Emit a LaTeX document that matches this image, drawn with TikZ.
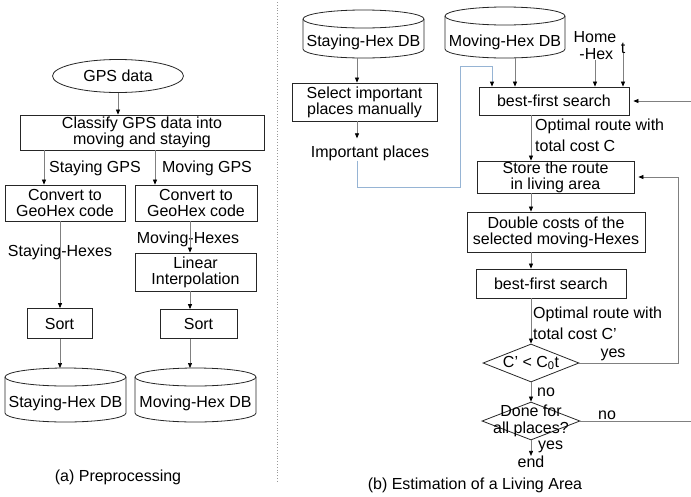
\documentclass[tikz,border=0pt]{standalone}
\usepackage{fontspec}
\setmainfont{Liberation Sans}
\usetikzlibrary{arrows.meta,shapes.geometric}
\definecolor{routeblue}{RGB}{150,180,212}
\newcommand\mkcyl[7]{%
  \pgfmathsetmacro\cylL{#2-#3/2}\pgfmathsetmacro\cylR{#2+#3/2}\pgfmathsetmacro\cylRx{#3/2}%
  \pgfmathsetmacro\cylT{#4+9}\pgfmathsetmacro\cylB{#5-9}%
  \draw[cylsty] (\cylL,\cylT) -- (\cylL,\cylB) arc[start angle=180,end angle=0,x radius=\cylRx,y radius=9] -- (\cylR,\cylT);
  \draw[cylsty] (#2,\cylT) ellipse[x radius=\cylRx, y radius=9];
  \coordinate (#1-t) at (#2,#4);
  \coordinate (#1-b) at (#2,#5);
  \node (#1) at (#2,#6) {#7};
}
\begin{document}
\begin{tikzpicture}[x=1pt,y=-1pt,
  every node/.style={font=\fontsize{16}{16}\selectfont, inner sep=0pt, align=center},
  box/.style={draw=black!85, line width=0.8pt, rectangle},
  cylsty/.style={draw=black!85, line width=0.8pt},
  arr/.style={draw=black!50, line width=0.7pt, -{Triangle[length=5pt,width=4pt,color=black]}},
  barr/.style={draw=routeblue, line width=0.8pt, -{Triangle[length=5pt,width=4pt,color=black]}},
  ln/.style={draw=black!50, line width=0.7pt},
  dia/.style={draw=black!85, line width=0.8pt, diamond, inner sep=0pt},
  optlbl/.style={align=left, anchor=west, font=\fontsize{16}{21}\selectfont},
]
\useasboundingbox (0,0) rectangle (691,496);

% separator
\draw[black!40, line width=0.8pt, dotted] (277,2) -- (277,483);

% ---------- (a) Preprocessing ----------
\node[draw=black!85, line width=0.8pt, ellipse, minimum width=131pt, minimum height=33pt] (gps) at (118,76) {GPS data};
\node[box, minimum width=244pt, minimum height=35pt] (classify) at (142,132.5) {Classify GPS data into\\moving and staying};
\node[box, minimum width=120pt, minimum height=36pt] (conv1) at (65,203) {Convert to\\GeoHex code};
\node[box, minimum width=122pt, minimum height=36pt] (conv2) at (196,203) {Convert to\\GeoHex code};
\node[box, minimum width=121pt, minimum height=38pt] (linear) at (195.5,272) {Linear\\Interpolation};
\node[box, minimum width=65pt, minimum height=30pt] (sort1) at (59.5,323.5) {Sort};
\node[box, minimum width=77pt, minimum height=29pt] (sort2) at (198.5,324) {Sort};
\mkcyl{sdb1}{65.5}{121}{368}{422}{403}{Staying-Hex DB}
\mkcyl{mdb1}{195.5}{121}{368}{422}{403}{Moving-Hex DB}

\node (lstg) at (95,168) {Staying GPS};
\node (lmvg) at (207,168) {Moving GPS};
\node (lsth) at (60,252) {Staying-Hexes};
\node (lmvh) at (188,239) {Moving-Hexes};
\node (capa) at (118,477) {(a) Preprocessing};

\coordinate (xa) at (44,0);
\coordinate (xb) at (155,0);
\coordinate (xc) at (60,0);
\coordinate (xd) at (190,0);
\draw[arr] (gps.south) -- (classify.north -| gps);
\draw[arr] (classify.south -| xa) -- (conv1.north -| xa);
\draw[arr] (classify.south -| xb) -- (conv2.north -| xb);
\draw[arr] (conv1.south -| xc) -- (sort1.north -| xc);
\draw[arr] (conv2.south -| xd) -- (linear.north -| xd);
\draw[arr] (linear.south -| xd) -- (sort2.north -| xd);
\draw[arr] (sort1.south -| xc) -- (sdb1-t -| xc);
\draw[arr] (sort2.south -| xd) -- (mdb1-t -| xd);

% ---------- (b) Estimation of a Living Area ----------
\mkcyl{sdb2}{363.5}{121}{10}{58}{42}{Staying-Hex DB}
\mkcyl{mdb2}{505}{120}{7}{58}{42}{Moving-Hex DB}
\node (home) at (595,46) {Home\\[1pt]\,-Hex};
\node (tlab) at (623,48) {t};

\node[box, minimum width=145pt, minimum height=38pt] (select) at (364.5,102) {Select important\\places manually};
\node (imp) at (370,153) {Important places};
\node[box, minimum width=150pt, minimum height=28pt] (bfs1) at (554,101) {best-first search};
\node[box, minimum width=157pt, minimum height=32pt] (store) at (555.5,177) {Store the route\\in living area};
\node[box, minimum width=178pt, minimum height=40pt] (double) at (556,232) {Double costs of the\\selected moving-Hexes};
\node[box, minimum width=150pt, minimum height=29pt] (bfs2) at (551,283.5) {best-first search};
\node[dia, minimum width=96pt, minimum height=38pt] (d1) at (531,363) {};
\node (d1t) at (531,363) {C’ < C\textsubscript{0}t};
\node[dia, minimum width=98pt, minimum height=38pt] (d2) at (531,421) {};
\node[font=\fontsize{16}{17}\selectfont] (d2t) at (531,421) {Done for\\all places?};
\node (endl) at (531,462) {end};

\node[optlbl] (opt1) at (535,135) {Optimal route with\\total cost C};
\node[optlbl] (opt2) at (533,323) {Optimal route with\\total cost C’};
\node (yes1) at (613,355) {yes};
\node[anchor=west] (no1) at (537,392) {no};
\node (no2) at (607,415) {no};
\node[anchor=west] (yes2) at (538,447) {yes};
\node (capb) at (475,485) {(b) Estimation of a Living Area};

\coordinate (xe) at (357,0);
\coordinate (xf) at (515,0);
\coordinate (xm) at (531,0);
\coordinate (b2) at (460,187);
\coordinate (b4) at (492,66);
\coordinate (ry) at (678,0);
\coordinate (re) at (691,0);

\draw[arr] (sdb2-b -| xe) -- (select.north -| xe);
\draw[arr, shorten >=7pt] (select.south -| xe) -- (imp.north -| xe);
\draw[barr] (imp.south -| xe) |- (b2) |- (b4) -- (bfs1.north -| b4);
\draw[arr] (mdb2-b -| xf) -- (bfs1.north -| xf);
\draw[arr] (home.south) -- (bfs1.north -| home);
\draw[arr] (tlab.south) -- (bfs1.north -| tlab);
\draw[arr] (bfs1.south -| xm) -- (store.north -| xm);
\draw[arr] (store.south -| xm) -- (double.north -| xm);
\draw[arr] (double.south -| xm) -- (bfs2.north -| xm);
\draw[arr] (bfs2.south -| xm) -- (d1.north);
\draw[arr] (d1.south) -- (d2.north);
\draw[arr] (d2.south) -- (endl.north);
\draw[arr, shorten >=4pt] (d1.east) -- (d1.east -| ry) -- (store.east -| ry) -- (store.east);
\draw[arr, shorten >=4pt] (bfs1.east -| re) -- (bfs1.east);
\draw[ln] (d2.east) -- (d2.east -| re);
\end{tikzpicture}
\end{document}
